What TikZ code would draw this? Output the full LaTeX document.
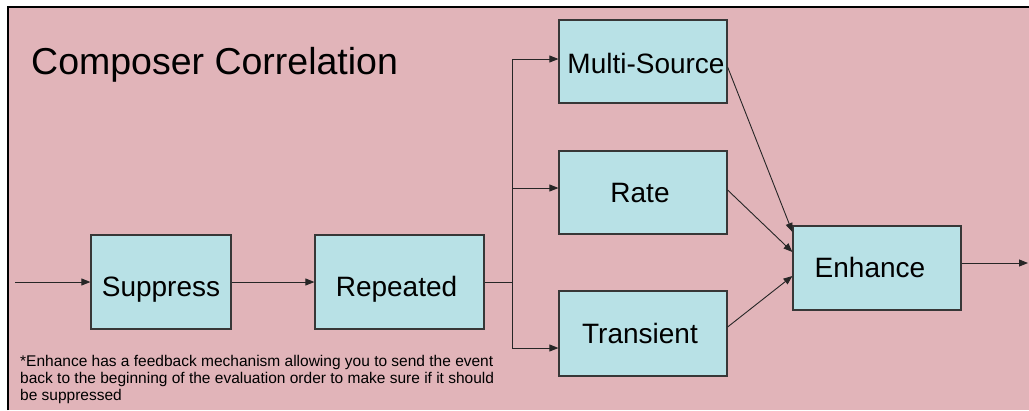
\documentclass[tikz,border=0pt]{standalone}
\usepackage{fontspec}
\setmainfont{Liberation Sans}
\usetikzlibrary{arrows.meta}
\definecolor{paper}{RGB}{225,180,185}
\definecolor{boxfill}{RGB}{184,225,230}
\definecolor{boxline}{RGB}{55,55,55}
\tikzset{
  stage/.style={draw=boxline, line width=1.2pt, fill=boxfill, inner sep=0pt,
    font=\fontsize{28}{30}\selectfont, text height=20pt, text depth=0pt},
  low/.style={text height=28pt},
  flow/.style={draw=black!85, line width=0.9pt},
  arr/.style={flow, -{Triangle[length=9pt,width=7pt]}},
}
\begin{document}
\begin{tikzpicture}[x=1pt,y=-1pt]
  \useasboundingbox (0,0) rectangle (1029,410);
  % page background and frame
  \fill[white] (0,0) rectangle (1029,410);
  \fill[paper] (8,7) rectangle (1029,410);
  \draw[black, line width=1.6pt] (8,410) -- (8,7) -- (1029,7);

  % title
  \node[anchor=base west, inner sep=0pt] (title) at (31,74)
    {\fontsize{37.5}{42}\selectfont Composer Correlation};

  % processing stages
  \node[stage, low, minimum width=140pt, minimum height=94pt] (sup) at (161,282) {Suppress};
  \node[stage, low, minimum width=169pt, minimum height=94pt] (rep) at (399.5,282) {\hspace*{-6pt}Repeated};
  \node[stage, text height=23pt, minimum width=168pt, minimum height=83pt] (ms) at (643,61.5) {\hspace*{6pt}Multi-Source};
  \node[stage, minimum width=168pt, minimum height=83pt] (rate) at (643,192.5) {\hspace*{-6pt}Rate};
  \node[stage, minimum width=168pt, minimum height=85pt] (tr) at (643,333.5) {\hspace*{-6pt}Transient};
  \node[stage, text height=18pt, minimum width=168pt, minimum height=84pt] (enh) at (877,268) {\hspace*{-14pt}Enhance};

  % free ends and the branch point
  \coordinate (in) at (15,282);
  \coordinate (split) at (512,282);
  \coordinate (out) at (1028,263);

  % main chain
  \draw[arr] (in) -- (sup);
  \draw[arr] (sup) -- (rep);
  \draw[flow] (rep) -- (split);
  \draw[arr] (split) |- ([yshift=2.5pt]ms.west);
  \draw[arr] (split) |- ([yshift=4.5pt]rate.west);
  \draw[arr] (split) |- ([yshift=-14.5pt]tr.west);

  % merge into Enhance
  \draw[arr] ([yshift=-5.5pt]ms.east) -- ([yshift=36pt]enh.west);
  \draw[arr] ([yshift=2.5pt]rate.east) -- ([yshift=16pt]enh.west);
  \draw[arr] ([yshift=6.5pt]tr.east) -- ([yshift=-8pt]enh.west);
  \draw[arr] ([yshift=5pt]enh.east) -- (out);

  % footnote
  \node[anchor=north west, inner sep=0pt, align=left,
        font=\fontsize{15.5}{17}\selectfont] (note) at (20,355.5)
    {*Enhance has a feedback mechanism allowing you to send the event\\
     back to the beginning of the evaluation order to make sure if it should\\
     be suppressed};
\end{tikzpicture}
\end{document}
